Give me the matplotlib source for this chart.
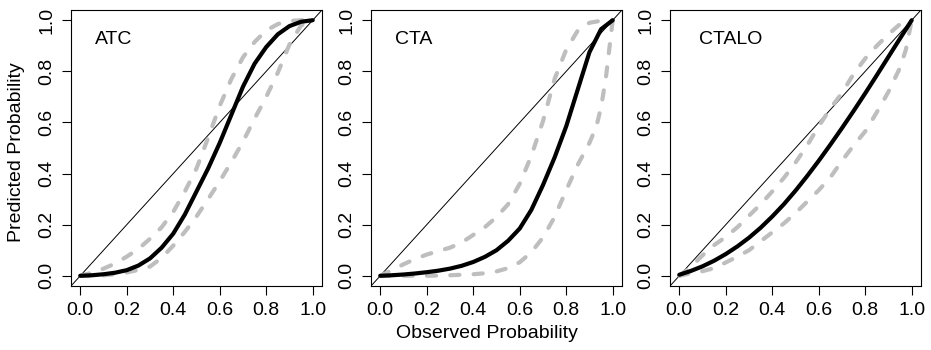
import matplotlib
matplotlib.use('Agg')
import matplotlib.pyplot as plt

plt.rcParams['font.family'] = ['Liberation Sans', 'DejaVu Sans']

# panel names
panels = ['ATC', 'CTA', 'CTALO']
ticks = [0.0, 0.2, 0.4, 0.6, 0.8, 1.0]
tick_labels = ['0.0', '0.2', '0.4', '0.6', '0.8', '1.0']

obs = [0.0, 0.05, 0.1, 0.15, 0.2, 0.25, 0.3, 0.35, 0.4, 0.45, 0.5,
       0.55, 0.6, 0.65, 0.7, 0.75, 0.8, 0.85, 0.9, 0.95, 1.0]

# ATC
atc_fit = [0.0, 0.002, 0.006, 0.012, 0.022, 0.04, 0.068, 0.11, 0.165, 0.24, 0.33,
           0.42, 0.52, 0.63, 0.74, 0.83, 0.895, 0.945, 0.977, 0.994, 1.0]
atc_upper = [0.0, 0.012, 0.028, 0.048, 0.075, 0.105, 0.145, 0.19, 0.25, 0.33, 0.42,
             0.54, 0.665, 0.77, 0.855, 0.915, 0.96, 0.985, 0.997, 1.0, 1.0]
atc_lower = [0.0, 0.0, 0.002, 0.006, 0.013, 0.023, 0.036, 0.07, 0.118, 0.172, 0.232,
             0.3, 0.37, 0.445, 0.525, 0.615, 0.70, 0.795, 0.905, 0.98, 1.0]

# CTA
cta_fit = [0.0, 0.002, 0.005, 0.009, 0.014, 0.02, 0.028, 0.039, 0.054, 0.074, 0.1,
           0.137, 0.185, 0.258, 0.355, 0.463, 0.585, 0.73, 0.875, 0.965, 1.0]
cta_upper = [0.0, 0.022, 0.045, 0.066, 0.083, 0.097, 0.11, 0.13, 0.16, 0.19, 0.23,
             0.28, 0.36, 0.47, 0.605, 0.77, 0.885, 0.96, 0.99, 0.998, 1.0]
cta_lower_x = [0.0, 0.1, 0.2, 0.3, 0.4, 0.45, 0.5, 0.55, 0.6, 0.65, 0.7, 0.75,
               0.8, 0.85, 0.9, 0.93, 0.95, 0.97, 0.985, 1.0]
cta_lower = [0.0, 0.0, 0.0, 0.002, 0.006, 0.01, 0.017, 0.03, 0.053, 0.092, 0.15, 0.23,
             0.335, 0.435, 0.52, 0.585, 0.66, 0.77, 0.885, 1.0]

# CTALO
ctalo_fit = [0.004, 0.019, 0.037, 0.059, 0.085, 0.115, 0.149, 0.188, 0.232, 0.28, 0.333,
             0.39, 0.45, 0.513, 0.578, 0.645, 0.714, 0.785, 0.857, 0.929, 1.0]
ctalo_upper = [0.0, 0.035, 0.08, 0.12, 0.152, 0.19, 0.235, 0.28, 0.33, 0.383, 0.443,
               0.51, 0.585, 0.655, 0.715, 0.79, 0.85, 0.9, 0.945, 0.985, 1.0]
ctalo_lower_x = [0.0, 0.05, 0.1, 0.15, 0.2, 0.25, 0.3, 0.35, 0.4, 0.45, 0.5,
                 0.55, 0.6, 0.65, 0.7, 0.75, 0.8, 0.85, 0.9, 0.95, 0.975, 1.0]
ctalo_lower = [0.0, 0.01, 0.018, 0.03, 0.052, 0.075, 0.1, 0.135, 0.17, 0.205, 0.245,
               0.29, 0.335, 0.385, 0.45, 0.51, 0.565, 0.64, 0.72, 0.815, 0.885, 1.0]

curves = [
    (obs, atc_fit, obs, atc_upper, obs, atc_lower),
    (obs, cta_fit, obs, cta_upper, cta_lower_x, cta_lower),
    (obs, ctalo_fit, obs, ctalo_upper, ctalo_lower_x, ctalo_lower),
]
label_x = [0.065, 0.065, 0.085]

W, H = 931, 350
lefts = [71, 371, 670]
FS = 14


def draw_panel(ax, name, data, lx):
    x, y, ux, uy, lox, loy = data
    # reference diagonal, corner to corner
    ax.plot([0, 1], [0, 1], transform=ax.transAxes, color='black', lw=0.7)
    dash = (0, (2.2, 3.4))
    ax.plot(ux, uy, color='#BEBEBE', lw=3, linestyle=dash, dash_capstyle='round')
    ax.plot(lox, loy, color='#BEBEBE', lw=3, linestyle=dash, dash_capstyle='round')
    ax.plot(x, y, color='black', lw=3, solid_capstyle='round', solid_joinstyle='round')
    ax.set_xlim(-0.04, 1.04)
    ax.set_ylim(-0.04, 1.04)
    ax.set_xticks(ticks)
    ax.set_xticklabels(tick_labels)
    ax.set_yticks(ticks)
    ax.set_yticklabels(tick_labels, rotation=90, va='center')
    ax.tick_params(direction='out', length=6.5, width=0.8, labelsize=FS, pad=5)
    for s in ax.spines.values():
        s.set_linewidth(0.8)
    ax.text(lx, 0.924, name, fontsize=FS, ha='left', va='center')


fig = plt.figure(figsize=(W / 100, H / 100), dpi=100)
for name, data, lx, left in zip(panels, curves, label_x, lefts):
    ax = fig.add_axes([left / W, (H - 286) / H, 251 / W, 276 / H])
    draw_panel(ax, name, data, lx)

fig.text(17 / W, 1 - 152 / H, 'Predicted Probability', rotation=90, fontsize=FS,
         ha='center', va='center')
fig.text(487 / W, 1 - 333 / H, 'Observed Probability', fontsize=FS, ha='center', va='center')

fig.savefig('out.png', dpi=100)
